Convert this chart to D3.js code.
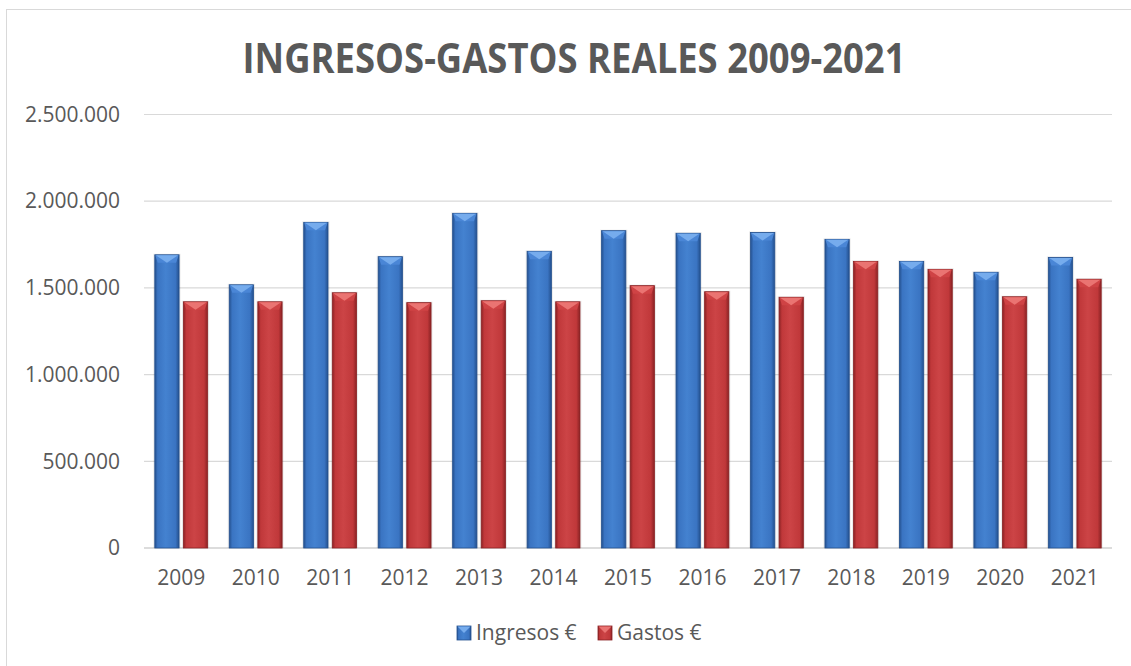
<!DOCTYPE html>
<html><head><meta charset="utf-8">
<script src="https://cdn.jsdelivr.net/npm/d3@7/dist/d3.min.js"></script>
<style>body{margin:0;background:#fff}svg{display:block}</style>
</head><body>
<script>
const years = ["2009","2010","2011","2012","2013","2014","2015","2016","2017","2018","2019","2020","2021"];
const ingresos = [1691000,1518000,1878000,1680000,1930000,1711000,1830000,1815000,1820000,1780000,1653000,1590000,1676000];
const gastos   = [1420000,1420000,1472000,1415000,1426000,1420000,1513000,1478000,1446000,1653000,1607000,1449000,1550000];
const seriesNames = ["Ingresos €","Gastos €"];
const yTicks = [0,500000,1000000,1500000,2000000,2500000];
const titleText = "INGRESOS-GASTOS REALES 2009-2021";

const W=1131,H=666;
const svg=d3.select("body").append("svg").attr("width",W).attr("height",H);
const defs=svg.append("defs");
const palettes=[
  {id:"gB",edge:"#24508e",mid:"#3a74c2",light:"#4482d0",top:"#76aced",topDark:"#4a86d6"},
  {id:"gR",edge:"#8a2224",mid:"#c0383a",light:"#cc4446",top:"#ea7472",topDark:"#cf4345"}
];
palettes.forEach(p=>{
  const g=defs.append("linearGradient").attr("id",p.id).attr("x1","0").attr("x2","1").attr("y1","0").attr("y2","0");
  g.append("stop").attr("offset","0").attr("stop-color",p.edge);
  g.append("stop").attr("offset","0.12").attr("stop-color",p.mid);
  g.append("stop").attr("offset","0.45").attr("stop-color",p.light);
  g.append("stop").attr("offset","0.85").attr("stop-color",p.mid);
  g.append("stop").attr("offset","1").attr("stop-color",p.edge);
});

svg.append("rect").attr("x",6.5).attr("y",9.5).attr("width",1140).attr("height",680)
  .attr("fill","none").attr("stroke","#d9d9d9").attr("stroke-width",1);

const m={left:144,right:1112,top:114.5,bottom:548};
const x=d3.scaleBand().domain(years).range([m.left,m.right]).paddingInner(0.29).paddingOuter(0.145);
const xs=d3.scaleBand().domain(seriesNames).range([0,x.bandwidth()]).paddingInner(0.15);
const y=d3.scaleLinear().domain([0,2500000]).range([m.bottom,m.top]);
const fmt=v=>d3.format(",")(v).replace(/,/g,".");

svg.append("g").selectAll("line").data(yTicks).join("line")
  .attr("x1",m.left).attr("x2",m.right).attr("y1",d=>y(d)).attr("y2",d=>y(d))
  .attr("stroke",d=>d===0?"#d0d0d0":"#d9d9d9").attr("stroke-width",d=>d===0?1.5:1.2);

const yAxis=d3.axisLeft(y).tickValues(yTicks).tickFormat(fmt).tickSize(0).tickPadding(0);
const ya=svg.append("g").attr("transform",`translate(120,0)`).call(yAxis);
ya.select(".domain").remove();
ya.selectAll("text").attr("font-family","'Open Sans'").attr("font-size",21).attr("fill","#595959");

const xAxis=d3.axisBottom(x).tickSize(0).tickPadding(0);
const xa=svg.append("g").attr("transform",`translate(0,570)`).call(xAxis);
xa.select(".domain").remove();
xa.selectAll("text").attr("font-family","'Open Sans'").attr("font-size",21).attr("fill","#595959").attr("dy","0.71em");

const data=years.map((yr,i)=>({yr,vals:[ingresos[i],gastos[i]]}));
const groups=svg.append("g").selectAll("g").data(data).join("g").attr("transform",d=>`translate(${x(d.yr)},0)`);
groups.each(function(d){
  const g=d3.select(this);
  d.vals.forEach((v,k)=>{
    const p=palettes[k];
    const x0=xs(seriesNames[k]), w=xs.bandwidth(), y0=y(v), y1=y(0);
    g.append("rect").attr("x",x0-1.5).attr("y",y0-1).attr("width",w+3).attr("height",y1-y0+1)
      .attr("fill","#000").attr("opacity",0.08);
    g.append("rect").attr("x",x0).attr("y",y0).attr("width",w).attr("height",y1-y0)
      .attr("fill",`url(#${p.id})`).attr("stroke",p.edge).attr("stroke-width",0.8);
    const bh=Math.min(8,(y1-y0)/2);
    g.append("path").attr("d",`M${x0+0.5},${y0+0.5}L${x0+w-0.5},${y0+0.5}L${x0+w-3},${y0+bh}L${x0+3},${y0+bh}Z`).attr("fill",p.topDark);
    g.append("path").attr("d",`M${x0+1},${y0+0.5}L${x0+w-1},${y0+0.5}L${x0+w/2},${y0+bh}Z`).attr("fill",p.top);
  });
});

svg.append("text").attr("x",574).attr("y",73).attr("text-anchor","middle")
  .attr("font-family","'Open Sans'").attr("font-weight",700).attr("font-size",42).attr("fill","#595959")
  .attr("textLength",663).attr("lengthAdjust","spacingAndGlyphs").text(titleText);

const legX=[457,598];
const leg=svg.append("g").selectAll("g").data(seriesNames).join("g").attr("transform",(d,i)=>`translate(${legX[i]},626)`);
leg.append("rect").attr("width",14).attr("height",14).attr("fill",(d,i)=>`url(#${palettes[i].id})`).attr("stroke",(d,i)=>palettes[i].edge).attr("stroke-width",0.8);
leg.append("path").attr("d","M0.5,0.5L13.5,0.5L7,7Z").attr("fill",(d,i)=>palettes[i].top);
leg.append("text").attr("x",19).attr("y",14).attr("font-family","'Open Sans'").attr("font-size",21).attr("fill","#595959").text(d=>d);
</script>
</body></html>
